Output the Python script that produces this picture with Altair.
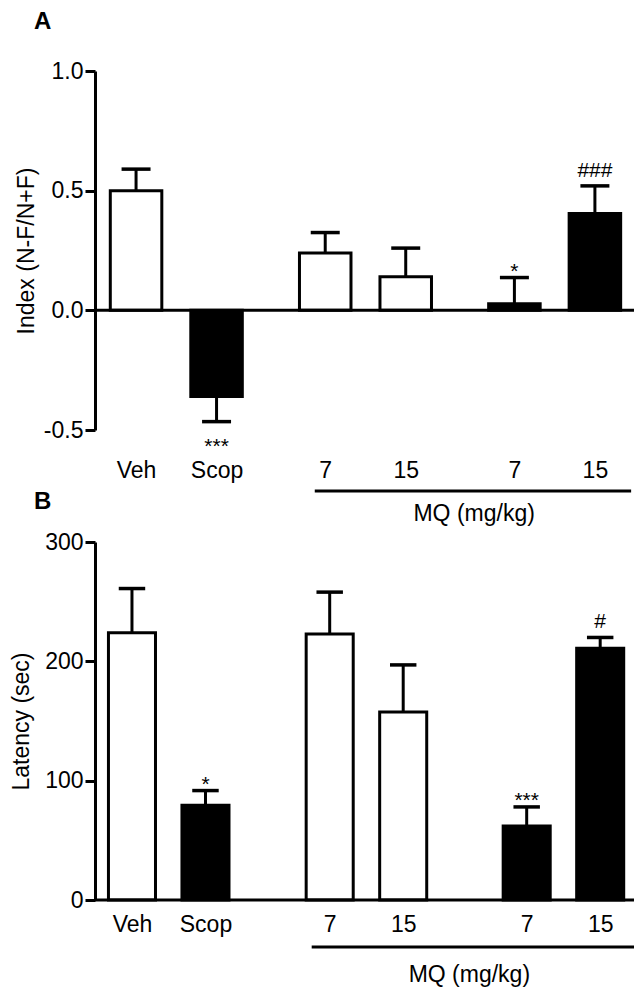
import altair as alt
import pandas as pd

# ---------------- data ----------------
groups = ["Veh", "Scop", "7", "15", "7", "15"]
fills = ["white", "black", "white", "white", "black", "black"]

# Panel A: Index (N-F/N+F)
a_pos = [1.0, 2.0, 3.35, 4.35, 5.7, 6.7]
a_mean = [0.50, -0.36, 0.24, 0.14, 0.028, 0.405]
a_err = [0.59, -0.465, 0.325, 0.26, 0.137, 0.52]
a_sig = ["", "***", "", "", "*", "###"]
a_ticks = [-0.5, 0.0, 0.5, 1.0]

# Panel B: Latency (sec)
b_pos = [1.0, 2.0, 3.69, 4.69, 6.37, 7.37]
b_mean = [224, 79.5, 223, 157.5, 62, 211]
b_err = [261, 91.7, 258, 197, 78, 220]
b_sig = ["", "*", "", "", "***", "#"]
b_ticks = [0, 100, 200, 300]

FONT = "Liberation Sans"
FS = 23
BAR_HALF = 0.32
CAP_HALF = 0.18


def panel(letter, letter_y, pos, mean, err, sig, ydomain, yticks, yfmt, ytitle,
          xdomain, width, height, label_pad, title_pad,
          bracket_x, bracket_off, mq_x, mq_off):
    df = pd.DataFrame({"pos": pos, "mean": mean, "err": err, "sig": sig,
                       "fill": fills, "grp": groups})
    base = alt.Chart(df).transform_calculate(
        x0=f"datum.pos - {BAR_HALF}", x1=f"datum.pos + {BAR_HALF}",
        c0=f"datum.pos - {CAP_HALF}", c1=f"datum.pos + {CAP_HALF}",
        zero="0",
    )
    xs = alt.Scale(domain=xdomain, nice=False, zero=False)
    ys = alt.Scale(domain=ydomain, nice=False, zero=False)

    pos_js = "[" + ",".join(repr(p) for p in pos) + "]"
    grp_js = "[" + ",".join("'" + g + "'" for g in groups) + "]"
    xaxis = alt.Axis(values=pos, labelExpr=f"{grp_js}[indexof({pos_js}, datum.value)]",
                     domain=False, ticks=False, tickSize=0, grid=False,
                     labelPadding=label_pad, labelBaseline="alphabetic",
                     labelFlush=False, labelOverlap=False, title=None,
                     labelFontSize=FS, labelColor="black", labelFont=FONT)
    yaxis = alt.Axis(values=yticks,
                     labelExpr=f"replace(format(datum.value, '{yfmt}'), '\u2212', '-')",
                     grid=False, title=ytitle, titlePadding=title_pad,
                     domainWidth=3, domainColor="black", tickWidth=3, tickColor="black",
                     tickSize=10, labelPadding=2, labelFontSize=FS, labelColor="black",
                     labelFont=FONT, titleFont=FONT, titleFontSize=FS,
                     titleFontWeight="normal", titleColor="black")

    def X(f):
        return alt.X(f, scale=xs, axis=xaxis)

    def Y(f):
        return alt.Y(f, scale=ys, axis=yaxis)

    bars = base.mark_bar(stroke="black", strokeWidth=3).encode(
        x=X("x0:Q"), x2="x1:Q", y=Y("mean:Q"), y2="zero:Q",
        fill=alt.Fill("fill:N", scale=None),
    )
    stems = base.mark_rule(color="black", strokeWidth=3).encode(
        x=X("pos:Q"), y=Y("mean:Q"), y2="err:Q",
    )
    caps = base.mark_rule(color="black", strokeWidth=3.5).encode(
        x=X("c0:Q"), x2="c1:Q", y=Y("err:Q"),
    )
    zero_line = alt.Chart(pd.DataFrame({"z": [0]})).mark_rule(
        color="black", strokeWidth=3).encode(y=Y("z:Q"))

    stars_up = base.transform_filter(
        "indexof(datum.sig, '*') >= 0 && datum.err >= datum.mean"
    ).mark_text(baseline="alphabetic", font=FONT, fontSize=21, color="black").encode(
        x=X("pos:Q"), y=Y("err:Q"), text="sig:N")
    hash_up = base.transform_filter(
        "indexof(datum.sig, '#') >= 0"
    ).mark_text(baseline="alphabetic", font=FONT, fontSize=21, color="black", dy=-9).encode(
        x=X("pos:Q"), y=Y("err:Q"), text="sig:N")
    stars_down = base.transform_filter(
        "indexof(datum.sig, '*') >= 0 && datum.err < datum.mean"
    ).mark_text(baseline="top", font=FONT, fontSize=21, color="black", dy=14).encode(
        x=X("pos:Q"), y=Y("err:Q"), text="sig:N")

    br = pd.DataFrame({"b0": [bracket_x[0]], "b1": [bracket_x[1]],
                       "mx": [mq_x], "lab": ["MQ (mg/kg)"], "letter": [letter]})
    bracket = alt.Chart(br).mark_rule(color="black", strokeWidth=3).encode(
        x=X("b0:Q"), x2="b1:Q", y=alt.value(height + bracket_off))
    mq = alt.Chart(br).mark_text(baseline="alphabetic", font=FONT, fontSize=FS,
                                 color="black").encode(
        x=X("mx:Q"), y=alt.value(height + mq_off), text="lab:N")
    panel_letter = alt.Chart(br).mark_text(
        baseline="alphabetic", align="left", font=FONT, fontSize=24,
        fontWeight="bold", color="black").encode(
        x=alt.value(-61), y=alt.value(letter_y), text="letter:N")

    return alt.layer(bars, stems, caps, zero_line, stars_up, hash_up, stars_down,
                     bracket, mq, panel_letter).properties(width=width, height=height)


pa = panel("A", -42, a_pos, a_mean, a_err, a_sig, [-0.5, 1.0], a_ticks, ".1f",
           "Index (N-F/N+F)", [0.49, 7.1857], 539, 359, 47, 5,
           (3.22, 7.15), 61, 5.2, 91)
pb = panel("B", -33, b_pos, b_mean, b_err, b_sig, [0, 300], b_ticks, "d",
           "Latency (sec)", [0.497, 7.83], 539, 358, 31, 11.5,
           (3.445, 7.83), 47, 5.59, 82)

chart = alt.vconcat(pa, pb, spacing=112, bounds="flush").properties(
    padding={"left": 2, "top": 2, "right": 0, "bottom": 0}
).configure(font=FONT).configure_view(stroke=None)

chart.save("out.html", embed_options={"renderer": "svg", "actions": False})
